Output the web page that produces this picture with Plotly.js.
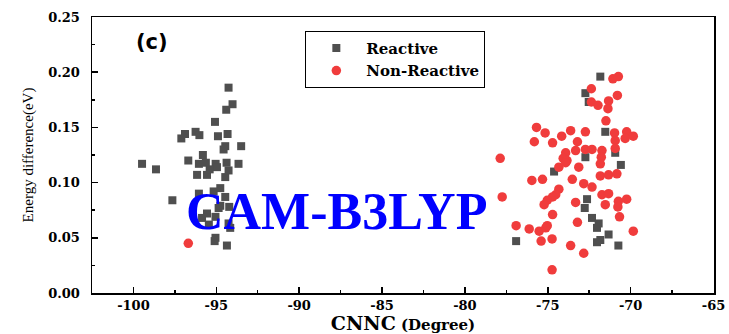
<!DOCTYPE html>
<html>
<head>
<meta charset="utf-8">
<script src="https://cdn.plot.ly/plotly-3.0.1.min.js"></script>
<style>html,body{margin:0;padding:0;background:#fff;}#chart{width:729px;height:334px;}</style>
</head>
<body>
<div id="chart"></div>
<script>
// Reactive (gray squares)
var reactiveX = [-94.26,-94.02,-94.40,-95.08,-96.89,-97.11,-96.25,-96.02,-94.90,-94.32,-94.46,-94.56,-93.50,-99.48,-98.64,-96.69,-95.81,-96.05,-95.63,-95.04,-94.38,-93.66,-96.16,-95.56,-94.46,-94.96,-94.26,-95.40,-94.76,-95.16,-96.05,-97.65,-94.46,-95.56,-95.86,-95.45,-95.05,-94.86,-95.05,-94.36,-94.26,-94.16,-94.76,-94.22,-95.10,
  -71.83,-72.73,-72.53,-71.53,-72.73,-70.93,-70.59,-74.62,-72.63,-72.77,-72.33,-71.93,-72.03,-71.33,-71.83,-72.03,-70.74,-76.91];
var reactiveY = [0.186,0.171,0.166,0.155,0.144,0.140,0.146,0.143,0.142,0.144,0.133,0.130,0.133,0.117,0.112,0.120,0.125,0.117,0.118,0.117,0.118,0.117,0.107,0.107,0.105,0.114,0.111,0.112,0.095,0.092,0.090,0.084,0.087,0.072,0.068,0.062,0.069,0.077,0.050,0.043,0.063,0.059,0.079,0.078,0.047,
  0.196,0.181,0.173,0.146,0.123,0.127,0.116,0.110,0.085,0.077,0.068,0.063,0.059,0.053,0.048,0.046,0.043,0.047];
// Non-Reactive (red circles)
var nonReactiveX = [-71.07,-70.74,-72.37,-70.80,-71.33,-72.37,-71.97,-71.37,-71.49,-75.68,-75.16,-73.62,-72.73,-74.16,-70.97,-70.24,-69.84,-75.81,-74.71,-73.21,-70.93,-70.93,-70.33,-73.92,-73.32,-72.73,-72.33,-71.73,-74.07,-73.84,-77.87,-71.77,-73.13,-71.83,-74.33,-73.92,-75.96,-75.32,-73.52,-72.83,-72.33,-71.83,-71.33,-70.83,-74.33,-74.52,-74.71,-71.73,-71.33,-77.75,-75.03,-75.22,-73.32,-71.53,-70.74,-70.24,-70.77,-74.71,-73.21,-70.67,-76.91,-76.12,-75.52,-75.12,-75.03,-69.84,-75.40,-74.74,-73.62,-72.83,-74.74,-96.69];
var nonReactiveY = [0.194,0.196,0.185,0.179,0.174,0.173,0.170,0.167,0.156,0.150,0.145,0.147,0.146,0.142,0.145,0.146,0.142,0.137,0.136,0.137,0.138,0.131,0.140,0.127,0.129,0.130,0.130,0.129,0.122,0.120,0.122,0.123,0.114,0.117,0.114,0.118,0.102,0.103,0.103,0.099,0.096,0.106,0.107,0.108,0.094,0.089,0.087,0.089,0.090,0.087,0.084,0.080,0.082,0.080,0.083,0.085,0.078,0.071,0.064,0.069,0.061,0.058,0.056,0.059,0.061,0.056,0.047,0.049,0.043,0.036,0.021,0.045];

var xTickVals = [-100,-95,-90,-85,-80,-75,-70,-65];
var xTickText = ['-100','-95','-90','-85','-80','-75','-70','-65'];
var yTickVals = [0,0.05,0.10,0.15,0.20,0.25];
var yTickText = ['0.00','0.05','0.10','0.15','0.20','0.25'];

var tickFont = {family:'DejaVu Serif', size:13, color:'#000', weight:'bold'};

var data = [
  {x: reactiveX, y: reactiveY, type:'scatter', mode:'markers', name:'Reactive',
   marker:{symbol:'square', size:8, color:'#4f4f4f', line:{width:0}}},
  {x: nonReactiveX, y: nonReactiveY, type:'scatter', mode:'markers', name:'Non-Reactive',
   marker:{symbol:'circle', size:9.5, color:'#f03c3c', line:{width:0}}}
];

var layout = {
  width:729, height:334,
  margin:{l:92, r:15, t:17, b:41},
  paper_bgcolor:'#fff', plot_bgcolor:'#fff',
  showlegend:true,
  legend:{x:0.343, y:0.95, xanchor:'left', yanchor:'top', bgcolor:'#fff',
    bordercolor:'#000', borderwidth:1, itemwidth:50, tracegroupgap:0,
    font:{family:'DejaVu Serif', size:15, color:'#000', weight:'bold'}},
  xaxis:{range:[-102.5,-64.97], tickvals:xTickVals, ticktext:xTickText, ticks:'inside', ticklen:6, tickwidth:1.5, tickcolor:'#000',
    showline:true, linecolor:'#000', linewidth:1.5, mirror:true, showgrid:false, zeroline:false,
    minor:{dtick:2.5, tick0:-100, ticks:'inside', ticklen:3, tickwidth:1.5, tickcolor:'#000', showgrid:false},
    tickfont:tickFont, ticklabelstandoff:0, ticklabeloverflow:'allow',
    title:{text:'<b><span style="font-size:19px">CNNC</span> (Degree)</b>', font:{family:'DejaVu Serif', size:15, color:'#000'}, standoff:7}},
  yaxis:{range:[0,0.25], tickvals:yTickVals, ticktext:yTickText, ticks:'inside', ticklen:6, tickwidth:1.5, tickcolor:'#000',
    showline:true, linecolor:'#000', linewidth:1.5, mirror:true, showgrid:false, zeroline:false,
    minor:{dtick:0.025, tick0:0, ticks:'inside', ticklen:3, tickwidth:1.5, tickcolor:'#000', showgrid:false},
    tickfont:tickFont, ticklabelstandoff:8,
    title:{text:'Energy difference(eV)', font:{family:'Liberation Serif', size:15, color:'#000'}, standoff:11}},
  annotations:[
    {text:'<b>(c)</b>', xref:'paper', yref:'paper', x:0.096, y:0.909, xanchor:'center', yanchor:'middle', showarrow:false,
     font:{family:'DejaVu Sans', size:21, color:'#000'}},
    {text:'<b>CAM-B3LYP</b>', xref:'paper', yref:'paper', x:0.393, y:0.295, xanchor:'center', yanchor:'middle', showarrow:false,
     font:{family:'Liberation Serif', size:52, color:'#0000ff'}}
  ]
};

Plotly.newPlot('chart', data, layout, {staticPlot:true, displayModeBar:false});
</script>
</body>
</html>
